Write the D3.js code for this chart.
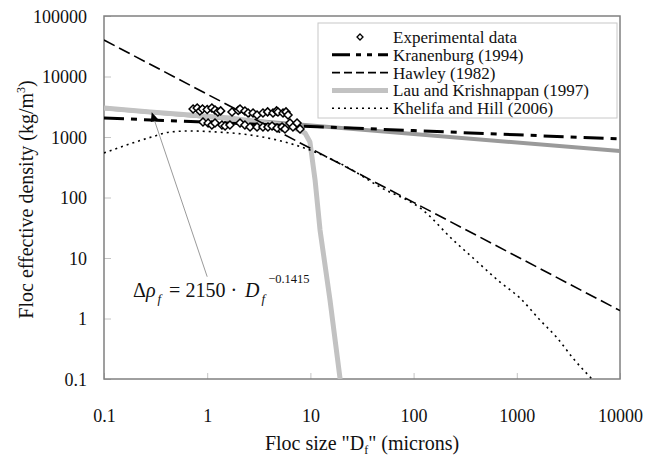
<!DOCTYPE html>
<html>
<head>
<meta charset="utf-8">
<script src="https://cdn.jsdelivr.net/npm/d3@7/dist/d3.min.js"></script>
<style>
  html, body { margin: 0; padding: 0; background: #fff; }
  svg { display: block; }
  svg text { font-family: "Liberation Serif", "Times New Roman", Times, "DejaVu Serif", "Noto Serif", serif; }
</style>
</head>
<body>
<svg id="chart" width="661" height="464"></svg>
<script>
// Floc size (microns) vs. floc effective density (kg/m^3)

const xTicks = [0.1, 1, 10, 100, 1000, 10000];
const yTicks = [0.1, 1, 10, 100, 1000, 10000, 100000];

// Experimental data
const expD = [0.73, 0.80, 0.85, 0.90, 1.00, 1.11, 1.19, 1.27, 1.35, 1.74, 2.00, 2.08, 2.32, 2.49, 2.78, 3.04, 3.47, 3.85, 4.34, 4.70, 4.85, 5.43, 5.80, 6.07,
              0.91, 1.02, 1.11, 1.19, 1.39, 1.49, 1.66, 2.08, 2.32, 2.60, 3.04, 3.47, 3.88, 4.25, 4.75, 5.31, 5.67, 6.34, 6.78, 7.42, 7.93];
const expRho = [2900, 3010, 2690, 2900, 2850, 3010, 2790, 2590, 2700, 2590, 2750, 2900, 2690, 2490, 2490, 2310, 2490, 2600, 2490, 2700, 2590, 2490, 2600, 2310,
                1770, 1700, 1580, 1700, 1580, 1520, 1580, 1700, 1580, 1460, 1460, 1460, 1460, 1520, 1410, 1460, 1360, 1700, 1460, 1700, 1360];

// Kranenburg (1994)
const kranD = [0.1, 1, 10, 100, 1000, 10000];
const kranRho = [2060, 1757, 1497, 1276, 1087, 927];

// Hawley (1982)
const hawD = [0.1, 1, 10, 100, 1000, 10000];
const hawRho = [40000, 5100, 650, 83, 10.6, 1.35];

// Lau and Krishnappan (1997)
const lauD = [0.1, 0.28, 1.66, 6.34, 8.87, 9.9, 11.1, 12.4, 15.5, 19.4];
const lauRho = [3010, 2590, 2060, 1520, 1165, 826, 194, 29, 2.0, 0.1];

// Khelifa and Hill (2006)
const khD = [0.1, 0.29, 0.44, 0.68, 1.24, 2.6, 4.75, 9.9, 22.6, 47.2, 123, 241, 377, 688, 1074, 1679, 2455, 3510, 5357];
const khRho = [545, 1000, 1211, 1257, 1211, 1079, 891, 609, 319, 149, 62, 19.9, 10, 4.0, 2.18, 0.94, 0.48, 0.22, 0.1];

// Power-law fit through the data
const fitCoef = 2150;
const fitExp = -0.1415;
const fitD = [0.1, 10000];

const legendLabels = ["Experimental data", "Kranenburg (1994)", "Hawley (1982)", "Lau and Krishnappan (1997)", "Khelifa and Hill (2006)"];

const svg = d3.select("#chart");
const margin = { left: 104, right: 41, top: 16, bottom: 85 };
const W = 661, H = 464;
const x = d3.scaleLog().domain([0.1, 10000]).range([margin.left, W - margin.right]);
const y = d3.scaleLog().domain([0.1, 100000]).range([H - margin.bottom, margin.top]);

const fmt = v => (v < 1 ? String(v) : d3.format("d")(v));

svg.append("defs").append("clipPath").attr("id", "plotClip")
  .append("rect")
  .attr("x", x.range()[0]).attr("y", y.range()[1])
  .attr("width", x.range()[1] - x.range()[0])
  .attr("height", y.range()[0] - y.range()[1]);

// Axes (ticks point inward)
const xAxis = d3.axisBottom(x).tickValues(xTicks).tickFormat(fmt).tickSizeInner(-6).tickSizeOuter(0).tickPadding(30);
const yAxis = d3.axisLeft(y).tickValues(yTicks).tickFormat(fmt).tickSizeInner(-7).tickSizeOuter(0).tickPadding(17);

const gx = svg.append("g").attr("transform", `translate(0,${y.range()[0]})`).call(xAxis);
const gy = svg.append("g").attr("transform", `translate(${x.range()[0]},0)`).call(yAxis);
[gx, gy].forEach(g => {
  g.attr("font-family", null).attr("font-size", null);
  g.select(".domain").remove();
  g.selectAll(".tick line").attr("stroke", "#c4c4c4").attr("stroke-width", 1);
  g.selectAll(".tick text").attr("fill", "#111").style("font-size", "18px");
});
gy.selectAll(".tick text").attr("dy", "0.35em");

// Plot frame
svg.append("rect")
  .attr("x", x.range()[0]).attr("y", y.range()[1])
  .attr("width", x.range()[1] - x.range()[0])
  .attr("height", y.range()[0] - y.range()[1])
  .attr("fill", "none").attr("stroke", "#808080").attr("stroke-width", 1.5);

const plot = svg.append("g").attr("clip-path", "url(#plotClip)");

const lineLinear = d3.line().x(d => x(d[0])).y(d => y(d[1]));
const lineSmooth = d3.line().x(d => x(d[0])).y(d => y(d[1])).curve(d3.curveMonotoneX);
const zip = (a, b) => a.map((v, i) => [v, b[i]]);

// Fit line
plot.append("path")
  .datum(fitD.map(d => [d, fitCoef * Math.pow(d, fitExp)]))
  .attr("d", lineLinear)
  .attr("fill", "none").attr("stroke", "#9a9a9a").attr("stroke-width", 4);

// Lau and Krishnappan
plot.append("path")
  .datum(zip(lauD, lauRho))
  .attr("d", lineLinear)
  .attr("fill", "none").attr("stroke", "#c2c2c2").attr("stroke-width", 5)
  .attr("stroke-linejoin", "round");

// Hawley
plot.append("path")
  .datum(zip(hawD, hawRho))
  .attr("d", lineLinear)
  .attr("fill", "none").attr("stroke", "#000").attr("stroke-width", 1.6)
  .attr("stroke-dasharray", "12,5");

// Khelifa and Hill
plot.append("path")
  .datum(zip(khD, khRho))
  .attr("d", lineSmooth)
  .attr("fill", "none").attr("stroke", "#000").attr("stroke-width", 1.6)
  .attr("stroke-dasharray", "2,4");

// Kranenburg
plot.append("path")
  .datum(zip(kranD, kranRho))
  .attr("d", lineLinear)
  .attr("fill", "none").attr("stroke", "#000").attr("stroke-width", 3)
  .attr("stroke-dasharray", "20,7,6,7");

// Experimental points
const diamond = r => `M0,${-r}L${r},0L0,${r}L${-r},0Z`;
plot.append("g").selectAll("path")
  .data(zip(expD, expRho))
  .join("path")
  .attr("transform", d => `translate(${x(d[0])},${y(d[1])})`)
  .attr("d", diamond(4))
  .attr("fill", "#fff").attr("stroke", "#000").attr("stroke-width", 1.5);

// Legend
const lg = svg.append("g");
lg.append("rect").attr("x", 318).attr("y", 23).attr("width", 299).attr("height", 95)
  .attr("fill", "#fff").attr("stroke", "#c8c8c8").attr("stroke-width", 1);
const rowY = i => 37 + i * 17.8;
const sx0 = 332, sx1 = 388, tx = 393;
lg.append("path").attr("transform", `translate(${(sx0 + sx1) / 2},${rowY(0)})`)
  .attr("d", diamond(3)).attr("fill", "#fff").attr("stroke", "#000").attr("stroke-width", 1.3);
const legendStyles = [
  null,
  { stroke: "#000", width: 3, dash: "18,6,5,6,5,6" },
  { stroke: "#000", width: 1.6, dash: "8,4" },
  { stroke: "#c2c2c2", width: 5, dash: null },
  { stroke: "#000", width: 1.6, dash: "2,4" }
];
legendStyles.forEach((s, i) => {
  if (!s) return;
  lg.append("line").attr("x1", sx0).attr("x2", sx1).attr("y1", rowY(i)).attr("y2", rowY(i))
    .attr("stroke", s.stroke).attr("stroke-width", s.width)
    .attr("stroke-dasharray", s.dash);
});
lg.selectAll("text.lbl").data(legendLabels).join("text")
  .attr("class", "lbl")
  .attr("x", tx).attr("y", (d, i) => rowY(i)).attr("dy", "0.35em")
  .style("font-size", "17px").attr("fill", "#111")
  .text(d => d);

// Axis titles
const xt = svg.append("text")
  .attr("x", (x.range()[0] + x.range()[1]) / 2).attr("y", 450)
  .attr("text-anchor", "middle").style("font-size", "20px").attr("fill", "#111");
xt.append("tspan").text('Floc size "D');
xt.append("tspan").attr("dy", 4).style("font-size", "12px").text("f");
xt.append("tspan").attr("dy", -4).text('" (microns)');

const yt = svg.append("text")
  .attr("transform", `translate(33,${(y.range()[0] + y.range()[1]) / 2 + 2}) rotate(-90)`)
  .attr("text-anchor", "middle").style("font-size", "20px").attr("fill", "#111");
yt.append("tspan").text("Floc effective density (kg/m");
yt.append("tspan").attr("dy", -8).style("font-size", "12px").text("3");
yt.append("tspan").attr("dy", 8).text(")");

// Annotation: fit equation with arrow to the fit line
const tipD = 0.29;
const tip = [x(tipD), y(fitCoef * Math.pow(tipD, fitExp))];
const tail = [x(1.0), y(4.9)];
const ang = Math.atan2(tip[1] - tail[1], tip[0] - tail[0]);
const headLen = 9, headW = 4;
const base = [tip[0] - headLen * Math.cos(ang), tip[1] - headLen * Math.sin(ang)];
svg.append("line")
  .attr("x1", tail[0]).attr("y1", tail[1]).attr("x2", base[0]).attr("y2", base[1])
  .attr("stroke", "#9a9a9a").attr("stroke-width", 1);
svg.append("path")
  .attr("d", `M${tip[0]},${tip[1]}L${base[0] + headW * Math.sin(ang)},${base[1] - headW * Math.cos(ang)}L${base[0] - headW * Math.sin(ang)},${base[1] + headW * Math.cos(ang)}Z`)
  .attr("fill", "#000");

const eq = svg.append("text").attr("x", 133).attr("y", 297)
  .style("font-size", "20px").attr("fill", "#111");
eq.append("tspan").text("\u0394");
eq.append("tspan").style("font-style", "italic").text("\u03C1");
eq.append("tspan").attr("dy", 6).attr("dx", 2).style("font-size", "13px").style("font-style", "italic").text("f");
eq.append("tspan").attr("dy", -6).attr("dx", 8).text("= " + fitCoef);
eq.append("tspan").attr("dx", 5).text("\u00B7");
eq.append("tspan").attr("dx", 8).style("font-style", "italic").text("D");
eq.append("tspan").attr("dy", 6).attr("dx", 2).style("font-size", "13px").style("font-style", "italic").text("f");
eq.append("tspan").attr("dy", -20).attr("dx", 3).style("font-size", "12.5px").text("\u2212" + Math.abs(fitExp));
</script>
</body>
</html>
